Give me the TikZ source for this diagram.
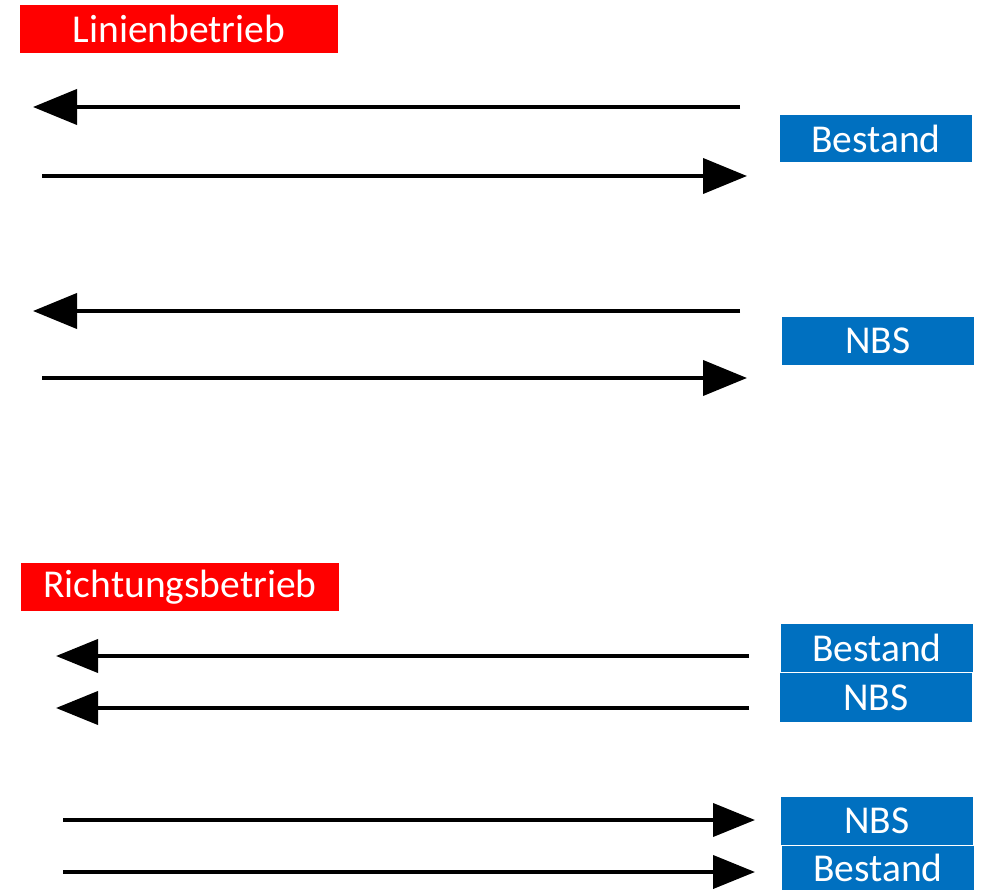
\documentclass[tikz,border=0pt]{standalone}
\usepackage{fontspec}
\setmainfont{Carlito}
\usetikzlibrary{arrows.meta}
\definecolor{hdrred}{RGB}{255,0,0}
\definecolor{tagblue}{RGB}{0,112,192}
\begin{document}
\begin{tikzpicture}[x=1pt,y=-1pt,
  hdr/.style={fill=hdrred,text=white,inner sep=0pt,font=\fontsize{39.5}{45}\selectfont},
  tag/.style={fill=tagblue,text=white,inner sep=0pt,font=\fontsize{39.5}{45}\selectfont},
  flow/.style={line width=4pt,-{Triangle[length=44pt,width=35pt]}},
  flowb/.style={line width=4pt,-{Triangle[length=42pt,width=33pt]}}]
\useasboundingbox (0,0) rectangle (986,890);
% headers
\node[hdr,minimum width=318pt,minimum height=48pt] (h1) at (179,29) {Linienbetrieb};
\node[hdr,minimum width=318pt,minimum height=48pt] (h2) at (180,587) {Richtungsbetrieb};
% tags
\node[tag,minimum width=192pt,minimum height=47pt] (t1) at (876,138.5) {Bestand};
\node[tag,minimum width=192pt,minimum height=48pt] (t2) at (878,341) {NBS};
\node[tag,minimum width=192pt,minimum height=48pt] (t3) at (877,648) {Bestand};
\node[tag,minimum width=192pt,minimum height=49pt] (t4) at (876,697.5) {NBS};
\node[tag,minimum width=192pt,minimum height=48pt] (t5) at (877,821) {NBS};
\node[tag,minimum width=192pt,minimum height=44pt] (t6) at (878,868) {Bestand};
% arrow end points
\coordinate (a1s) at (740,107); \coordinate (a1e) at (33,107);
\coordinate (a2s) at (42,176);  \coordinate (a2e) at (747,176);
\coordinate (a3s) at (740,311); \coordinate (a3e) at (33,311);
\coordinate (a4s) at (42,378);  \coordinate (a4e) at (747,378);
\coordinate (a5s) at (749,656); \coordinate (a5e) at (56,656);
\coordinate (a6s) at (749,708); \coordinate (a6e) at (56,708);
\coordinate (a7s) at (63,820);  \coordinate (a7e) at (755,820);
\coordinate (a8s) at (63,872);  \coordinate (a8e) at (755,872);
\draw[flow] (a1s) -- (a1e);
\draw[flow] (a2s) -- (a2e);
\draw[flow] (a3s) -- (a3e);
\draw[flow] (a4s) -- (a4e);
\draw[flowb] (a5s) -- (a5e);
\draw[flowb] (a6s) -- (a6e);
\draw[flowb] (a7s) -- (a7e);
\draw[flowb] (a8s) -- (a8e);
\end{tikzpicture}
\end{document}
